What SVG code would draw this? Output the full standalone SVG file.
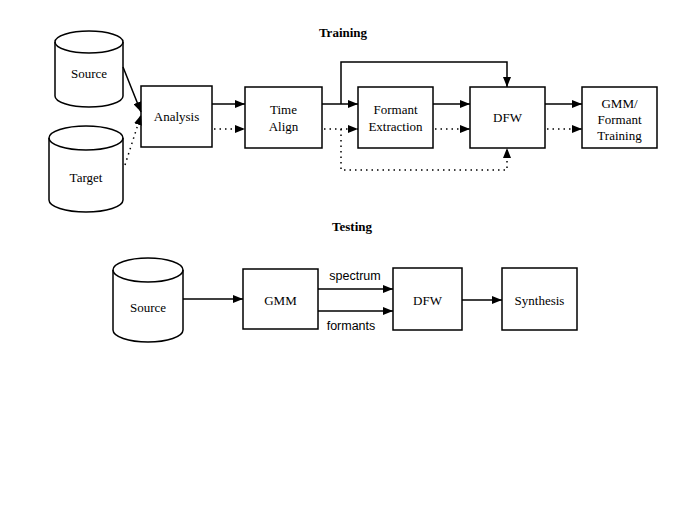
<svg xmlns="http://www.w3.org/2000/svg" width="700" height="525" viewBox="0 0 700 525">
<style>
.box{fill:#fff;stroke:#000;stroke-width:1.5}
.t{font-family:"Liberation Serif",serif;font-size:13px;text-anchor:middle;fill:#000}
.ttl{font-family:"Liberation Serif",serif;font-size:13px;font-weight:bold;text-anchor:middle}
.s{font-family:"Liberation Sans",sans-serif;font-size:12.5px;text-anchor:middle}
.ln{fill:none;stroke:#000;stroke-width:1.5}
.dt{fill:none;stroke:#000;stroke-width:1.5;stroke-dasharray:1.5 4}
</style>
<defs>
<marker id="ah" viewBox="0 0 10 8" refX="10" refY="4" markerWidth="10" markerHeight="8" markerUnits="userSpaceOnUse" orient="auto">
<path d="M0,0 L10,4 L0,8 z" fill="#000"/>
</marker>
</defs>
<rect width="700" height="525" fill="#fff"/>
<text class="ttl" x="343" y="37">Training</text>
<text class="ttl" x="352" y="231">Testing</text>

<g id="src1">
<path class="box" d="M55,42 L55,96 A34,11 0 0 0 123,96 L123,42 A34,11 0 0 0 55,42 Z"/>
<path class="ln" d="M55,42 A34,11 0 0 0 123,42"/>
<text class="t" x="89" y="78">Source</text>
</g>
<g id="tgt1">
<path class="box" d="M49,138 L49,200 A37,12 0 0 0 123,200 L123,138 A37,12 0 0 0 49,138 Z"/>
<path class="ln" d="M49,138 A37,12 0 0 0 123,138"/>
<text class="t" x="86" y="182">Target</text>
</g>
<g id="analysis"><rect class="box" x="141" y="86" width="71" height="61"/><text class="t" x="176.5" y="121">Analysis</text></g>
<g id="timealign"><rect class="box" x="245" y="87" width="77" height="61"/><text class="t" x="283.5" y="114">Time</text><text class="t" x="283.5" y="131">Align</text></g>
<g id="formant"><rect class="box" x="358" y="87" width="75" height="61"/><text class="t" x="395.5" y="114">Formant</text><text class="t" x="395.5" y="131">Extraction</text></g>
<g id="dfw1"><rect class="box" x="470" y="87" width="75" height="61"/><text class="t" x="507.5" y="122">DFW</text></g>
<g id="gmmtrain"><rect class="box" x="582" y="87" width="75" height="61"/><text class="t" x="619.5" y="108">GMM/</text><text class="t" x="619.5" y="124">Formant</text><text class="t" x="619.5" y="140">Training</text></g>

<g id="src2">
<path class="box" d="M113,270 L113,330 A35,12 0 0 0 183,330 L183,270 A35,12 0 0 0 113,270 Z"/>
<path class="ln" d="M113,270 A35,12 0 0 0 183,270"/>
<text class="t" x="148" y="312">Source</text>
</g>
<g id="gmm"><rect class="box" x="243" y="269" width="75" height="60"/><text class="t" x="280.5" y="305">GMM</text></g>
<g id="dfw2"><rect class="box" x="393" y="268" width="69" height="62"/><text class="t" x="427.5" y="305">DFW</text></g>
<g id="synth"><rect class="box" x="502" y="268" width="75" height="62"/><text class="t" x="539.5" y="305">Synthesis</text></g>

<g id="connectors">
<line class="ln" x1="123" y1="67" x2="141" y2="112" marker-end="url(#ah)"/>
<line class="dt" x1="125" y1="165" x2="141" y2="115" marker-end="url(#ah)"/>
<line class="ln" x1="212" y1="104" x2="245" y2="104" marker-end="url(#ah)"/>
<line class="dt" x1="214" y1="129" x2="245" y2="129" marker-end="url(#ah)"/>
<line class="ln" x1="322" y1="104" x2="358" y2="104" marker-end="url(#ah)"/>
<line class="dt" x1="324" y1="129" x2="358" y2="129" marker-end="url(#ah)"/>
<line class="ln" x1="433" y1="104" x2="470" y2="104" marker-end="url(#ah)"/>
<line class="dt" x1="435" y1="129" x2="470" y2="129" marker-end="url(#ah)"/>
<line class="ln" x1="545" y1="104" x2="582" y2="104" marker-end="url(#ah)"/>
<line class="dt" x1="547" y1="129" x2="582" y2="129" marker-end="url(#ah)"/>
<polyline class="ln" points="341,104 341,62 507,62 507,87" marker-end="url(#ah)"/>
<polyline class="dt" points="341,129 341,170 507,170 507,148" marker-end="url(#ah)"/>
<line class="ln" x1="183" y1="299" x2="243" y2="299" marker-end="url(#ah)"/>
<line class="ln" x1="318" y1="289" x2="393" y2="289" marker-end="url(#ah)"/>
<line class="ln" x1="318" y1="311" x2="393" y2="311" marker-end="url(#ah)"/>
<line class="ln" x1="462" y1="300" x2="502" y2="300" marker-end="url(#ah)"/>
<text class="s" x="355" y="280">spectrum</text>
<text class="s" x="351" y="330">formants</text>
</g>
</svg>
